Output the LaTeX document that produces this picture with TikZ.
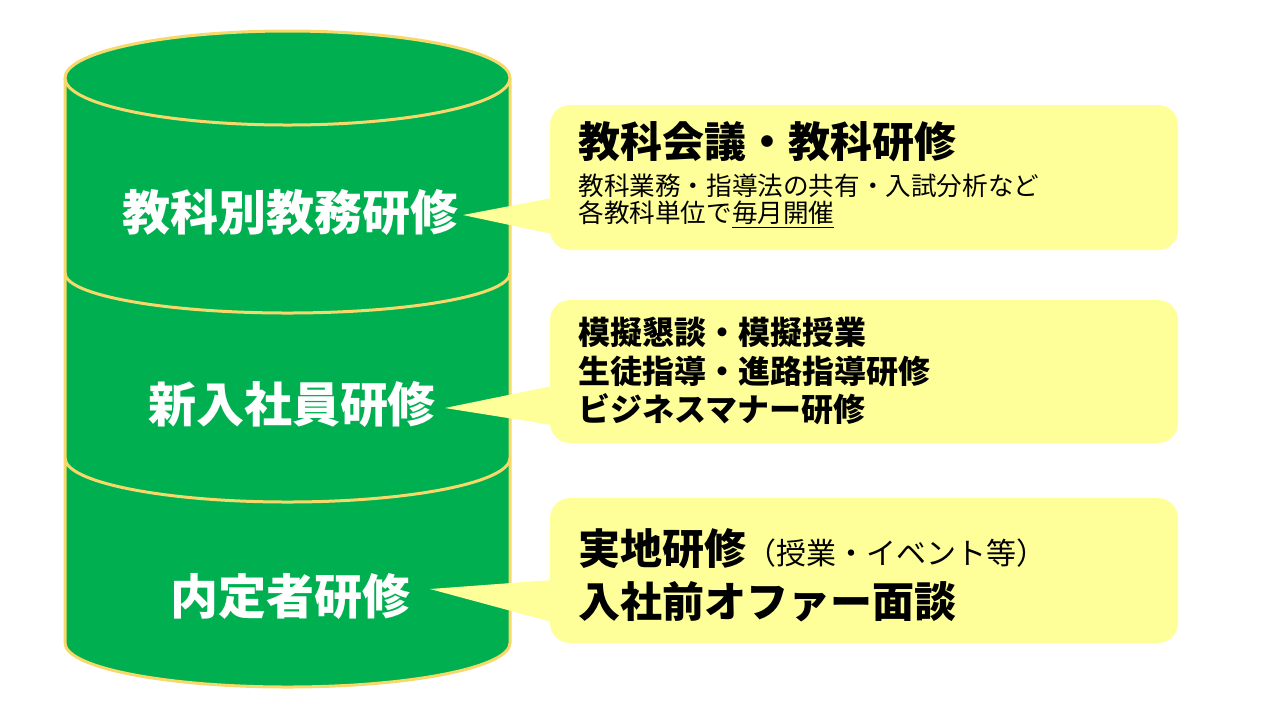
\documentclass[tikz,border=0pt]{standalone}
\usepackage{fontspec}
\newfontfamily\jp{Noto Sans CJK JP}
\usetikzlibrary{positioning}
\definecolor{drumgreen}{HTML}{00B050}
\definecolor{drumedge}{HTML}{F7D86A}
\definecolor{memo}{HTML}{FFFF99}
\tikzset{
  drum/.style={draw=drumedge, line width=1.5pt},
  layer/.style={font=\jp\bfseries\fontsize{24pt}{28pt}\selectfont, text=white},
  memobox/.style={fill=memo, rounded corners=10pt, minimum width=314pt, inner sep=0pt},
  head/.style={anchor=west, inner sep=0pt, font=\jp\bfseries\fontsize{21pt}{24pt}\selectfont},
  item/.style={anchor=west, inner sep=0pt, font=\jp\bfseries\fontsize{16pt}{19pt}\selectfont},
  note/.style={anchor=west, inner sep=0pt, font=\jp\fontsize{12.8pt}{15pt}\selectfont}
}
\begin{document}
\begin{tikzpicture}[x=0.5pt, y=-0.5pt]
  \useasboundingbox (0,0) rectangle (1280,720);
  % cylinder body
  \fill[drumgreen] (65,78) -- (65,643) arc[start angle=180, end angle=0, x radius=222.5, y radius=44] -- (510,78) -- cycle;
  \draw[drum] (65,78) -- (65,643) arc[start angle=180, end angle=0, x radius=222.5, y radius=44] -- (510,78);
  \draw[drum, fill=drumgreen] (287.5,78) ellipse[x radius=222.5, y radius=47];
  % layer separators
  \draw[drum] (65,273) arc[start angle=180, end angle=0, x radius=222.5, y radius=40];
  \draw[drum] (65,458) arc[start angle=180, end angle=0, x radius=222.5, y radius=44];

  % layer labels
  \node[layer] (l1) at (290,212) {教科別教務研修};
  \node[layer] (l2) at (292,404) {新入社員研修};
  \node[layer] (l3) at (290,596) {内定者研修};

  % callout boxes
  \node[memobox, minimum height=72.5pt] (box1) at (864,177.5) {};
  \node[memobox, minimum height=71.5pt] (box2) at (864,371.5) {};
  \node[memobox, minimum height=72.5pt] (box3) at (864,570.5) {};
  \coordinate (tip1) at (463,215);
  \coordinate (tip2) at (445,408);
  \coordinate (tip3) at (430,589);
  \fill[memo] (tip1) -- (552,198) -- (552,234) -- cycle;
  \fill[memo] (tip2) -- (552,386) -- (552,425) -- cycle;
  \fill[memo] (tip3) -- (552,580) -- (552,622) -- cycle;

  % callout texts
  \node[head] (t1) at (578,142) {教科会議・教科研修};
  \node[note] (t1a) at (578,186) {教科業務・指導法の共有・入試分析など};
  \node[note] (t1b) at (578,215) {各教科単位で\underline{毎月開催}};
  \node[item] (t2a) at (578,332) {模擬懇談・模擬授業};
  \node[item] (t2b) at (578,371) {生徒指導・進路指導研修};
  \node[item] (t2c) at (578,409) {ビジネスマナー研修};
  \node[head] (t3a) at (578,549) {実地研修{\mdseries\fontsize{15pt}{18pt}\selectfont （授業・イベント等）}};
  \node[head] (t3b) at (578,602) {入社前オファー面談};
\end{tikzpicture}
\end{document}
